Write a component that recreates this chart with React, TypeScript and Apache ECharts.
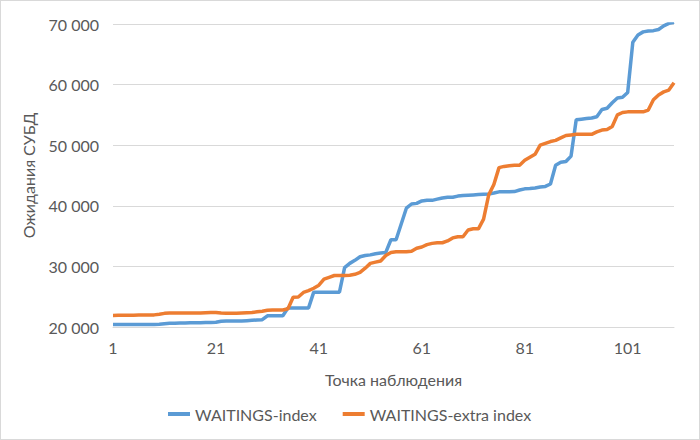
import React, { useEffect, useRef } from "react";
import * as echarts from "echarts";

const seriesNames = ["WAITINGS-index", "WAITINGS-extra index"];

const waitingsIndex = [
  20400, 20400, 20400, 20400, 20400, 20400, 20400, 20400, 20400, 20450,
  20550, 20600, 20600, 20650, 20650, 20700, 20700, 20700, 20750, 20750,
  20800, 20950, 21000, 21000, 21000, 21000, 21050, 21100, 21150, 21200,
  21850, 21850, 21850, 21850, 23150, 23150, 23150, 23150, 23150, 25750,
  25750, 25750, 25750, 25750, 25750, 29800, 30500, 31000, 31600, 31800,
  31900, 32100, 32200, 32300, 34400, 34400, 37000, 39600, 40300, 40400,
  40800, 40900, 40900, 41100, 41300, 41400, 41400, 41600, 41700, 41750,
  41800, 41850, 41900, 41950, 42100, 42300, 42300, 42300, 42350, 42600,
  42800, 42850, 42950, 43100, 43200, 43600, 46700, 47200, 47300, 48200,
  54200, 54300, 54400, 54500, 54700, 55900, 56100, 57000, 57800, 57900,
  58700, 67000, 68200, 68700, 68850, 68900, 69100, 69700, 70100, 70300,
];

const waitingsExtraIndex = [
  21900, 21920, 21940, 21950, 21950, 21960, 21970, 21980, 22000, 22100,
  22250, 22300, 22300, 22300, 22300, 22300, 22300, 22300, 22350, 22400,
  22400, 22300, 22250, 22250, 22250, 22300, 22350, 22400, 22500, 22600,
  22750, 22800, 22800, 22800, 23000, 24900, 24950, 25700, 26000, 26400,
  26900, 27900, 28200, 28500, 28500, 28500, 28550, 28700, 29000, 29700,
  30500, 30700, 30900, 31800, 32300, 32400, 32400, 32400, 32500, 33000,
  33200, 33600, 33800, 33900, 33900, 34200, 34700, 34900, 34900, 36000,
  36200, 36200, 37800, 41800, 43500, 46300, 46500, 46600, 46700, 46700,
  47500, 48000, 48500, 50000, 50300, 50600, 50800, 51200, 51600, 51700,
  51800, 51800, 51800, 51800, 52200, 52500, 52600, 53100, 55000, 55400,
  55500, 55500, 55500, 55500, 55800, 57500, 58300, 58800, 59100, 60300,
];

const categories = waitingsIndex.map((_, i) => String(i + 1));

const yMin = 20000;
const yMax = 70000;
const yStep = 10000;

const xTitle = "Точка наблюдения";
const yTitle = "Ожидания СУБД";

const colors = ["#5B9BD5", "#ED7D31"];

export default function App() {
  const ref = useRef<HTMLDivElement>(null);

  useEffect(() => {
    if (!ref.current) return;
    const chart = echarts.init(ref.current, undefined, { renderer: "svg" });
    const font = "Lato, 'Open Sans', sans-serif";
    const textColor = "#595959";
    chart.setOption({
      animation: false,
      color: colors,
      textStyle: { fontFamily: font },
      grid: { left: 112, right: 25, top: 23, bottom: 112 },
      legend: {
        data: seriesNames,
        bottom: 12,
        left: 162,
        icon: "rect",
        itemWidth: 22,
        itemHeight: 4,
        itemGap: 26,
        textStyle: { color: textColor, fontSize: 16, fontFamily: font },
      },
      xAxis: {
        type: "category",
        data: categories,
        boundaryGap: false,
        name: xTitle,
        nameLocation: "middle",
        nameGap: 44,
        nameTextStyle: { color: textColor, fontSize: 16, fontFamily: font },
        axisLine: { lineStyle: { color: "#d9d9d9", width: 1 } },
        axisTick: { show: false },
        axisLabel: {
          interval: 19,
          color: textColor,
          fontSize: 16,
          margin: 12,
          fontFamily: font,
        },
        splitLine: { show: false },
      },
      yAxis: {
        type: "value",
        min: yMin,
        max: yMax,
        interval: yStep,
        name: yTitle,
        nameLocation: "middle",
        nameRotate: 90,
        nameGap: 77,
        nameTextStyle: { color: textColor, fontSize: 16, fontFamily: font },
        axisLine: { show: false },
        axisTick: { show: false },
        axisLabel: {
          color: textColor,
          fontSize: 16,
          margin: 14,
          fontFamily: font,
          formatter: (v: number) =>
            String(Math.round(v)).replace(/\B(?=(\d{3})+(?!\d))/g, " "),
        },
        splitLine: { lineStyle: { color: "#d9d9d9", width: 1 } },
      },
      series: [
        {
          name: seriesNames[0],
          type: "line",
          data: waitingsIndex,
          showSymbol: false,
          symbol: "none",
          lineStyle: { width: 3.5, color: colors[0] },
        },
        {
          name: seriesNames[1],
          type: "line",
          data: waitingsExtraIndex,
          showSymbol: false,
          symbol: "none",
          lineStyle: { width: 3.5, color: colors[1] },
        },
      ],
    });
    return () => chart.dispose();
  }, []);

  return (
    <div
      ref={ref}
      style={{
        position: "absolute",
        left: 0,
        top: 0,
        width: 700,
        height: 440,
        boxSizing: "border-box",
        border: "1px solid #d9d9d9",
        background: "#fff",
      }}
    />
  );
}
